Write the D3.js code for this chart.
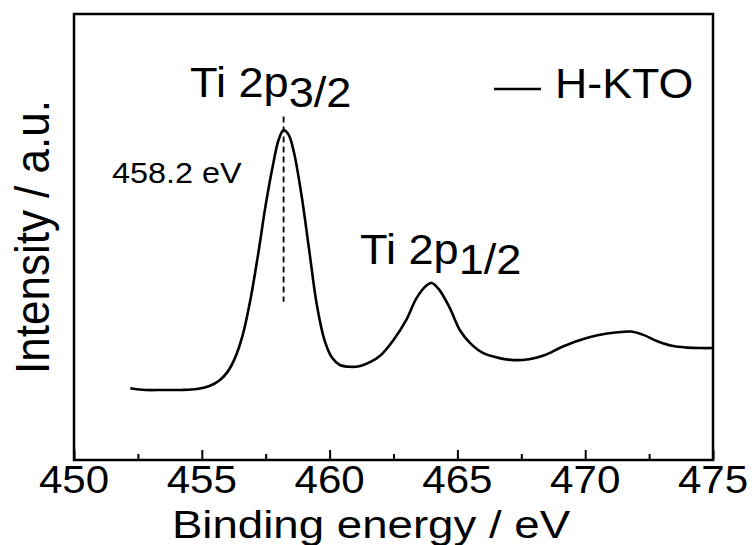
<!DOCTYPE html>
<html><head><meta charset="utf-8">
<script src="https://cdn.jsdelivr.net/npm/d3@7"></script>
<style>html,body{margin:0;padding:0;background:#fff;}svg{display:block;font-family:"Liberation Sans",Arial,sans-serif;}</style>
</head><body>
<svg id="c" width="755" height="545"></svg>
<script>
const energy = [452.2,452.8,453.5,454.2,454.8,455.3,455.7,456.0,456.3,456.6,456.9,457.2,457.5,457.8,458.0,458.2,458.4,458.6,458.9,459.2,459.5,459.8,460.1,460.4,460.8,461.2,461.6,462.0,462.5,463.0,463.4,463.8,464.0,464.3,464.7,465.1,465.5,466.0,466.6,467.2,467.8,468.4,469.0,469.6,470.2,470.8,471.4,471.8,472.3,472.8,473.4,474.0,474.5,475.0];
const intensity = [16.1,15.7,15.7,15.7,15.9,16.6,17.9,19.7,22.9,28.0,35.9,46.0,57.2,66.6,71.7,74.0,72.9,69.1,59.4,47.1,34.8,26.9,22.9,21.3,20.9,21.1,22.0,23.5,26.9,31.4,36.3,39.2,39.7,38.1,34.1,29.1,26.2,24.0,22.9,22.4,22.6,23.5,25.1,26.5,27.6,28.3,28.7,28.8,28.0,26.7,25.6,25.2,25.1,25.1];
const majorTicks = [450,455,460,465,470,475];
const minorTicks = [452.5,457.5,462.5,467.5,472.5];
const peakEnergy = 458.2;
const seriesName = "H-KTO";

const svg = d3.select("#c");
const L=74,R=713,T=14,B=460;
const x = d3.scaleLinear().domain([450,475]).range([L,R]);
const y = d3.scaleLinear().domain([0,100]).range([B,T]);
const data = energy.map((e,i)=>({e, v:intensity[i]}));

function stext(px, py, size, sx, anchor){
  return svg.append("text").attr("transform",`translate(${px},${py}) scale(${sx},1)`)
    .attr("font-size",size).attr("text-anchor",anchor||"start").attr("fill","#000");
}

// frame
svg.append("rect").attr("x",L).attr("y",T).attr("width",R-L).attr("height",B-T)
  .attr("fill","none").attr("stroke","#000").attr("stroke-width",2.5);

// x axis ticks (inward)
const gx = svg.append("g").attr("transform",`translate(0,${B})`)
  .call(d3.axisBottom(x).tickValues(majorTicks).tickSize(-10).tickFormat(""));
gx.select(".domain").remove();
gx.selectAll(".tick line").attr("stroke","#000").attr("stroke-width",2);
const gm = svg.append("g").attr("transform",`translate(0,${B})`)
  .call(d3.axisBottom(x).tickValues(minorTicks).tickSize(-6).tickFormat(""));
gm.select(".domain").remove();
gm.selectAll(".tick line").attr("stroke","#000").attr("stroke-width",2);
majorTicks.forEach(t=>{
  stext(x(t), 493, 39, 1.08, "middle").text(d3.format("d")(t));
});

// axis titles
stext(371, 538, 39, 1.17, "middle").text("Binding energy / eV");
svg.append("text").attr("transform",`translate(49,${(T+B)/2}) rotate(-90) scale(1,1.08)`)
  .attr("text-anchor","middle").attr("font-size",44).text("Intensity / a.u.");

// curve
svg.append("path").datum(data).attr("fill","none").attr("stroke","#000").attr("stroke-width",2.6)
  .attr("stroke-linejoin","round")
  .attr("d", d3.line().x(d=>x(d.e)).y(d=>y(d.v)).curve(d3.curveCatmullRom.alpha(0.5)));

// dashed peak marker
svg.append("line").attr("x1",x(peakEnergy)).attr("x2",x(peakEnergy))
  .attr("y1",y(77)).attr("y2",y(35.5)).attr("stroke","#000").attr("stroke-width",1.8)
  .attr("stroke-dasharray","6,4");

// annotations
const t1 = stext(190, 97, 43, 1.05);
t1.append("tspan").text("Ti 2p");
t1.append("tspan").attr("dy",10).text("3/2");
stext(112, 183, 30, 1.08).text("458.2 eV");
const t2 = stext(360, 264, 43, 1.05);
t2.append("tspan").text("Ti 2p");
t2.append("tspan").attr("dy",10).text("1/2");

// legend
svg.append("line").attr("x1",494).attr("x2",541).attr("y1",89).attr("y2",89)
  .attr("stroke","#000").attr("stroke-width",2.6);
stext(555, 98, 43, 1.04).text(seriesName);
</script>
</body></html>
